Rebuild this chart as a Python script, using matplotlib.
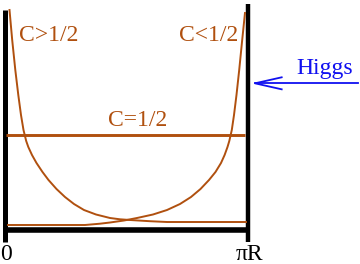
import matplotlib
matplotlib.use("Agg")
import matplotlib.pyplot as plt

# data (x: 0 .. 1 corresponds to 0 .. piR ; y: 0 at the bottom brane line)
c_gt_x = [0.0173, 0.0284, 0.0412, 0.0535, 0.0646, 0.0749, 0.0860, 0.0947, 0.1099, 0.1284,
          0.1531, 0.1778, 0.2107, 0.2457, 0.2827, 0.3239, 0.3733, 0.4309, 0.4720, 0.5132,
          0.5955, 0.6654, 0.9905]
c_gt_y = [0.9977, 0.8614, 0.7250, 0.6114, 0.5205, 0.4523, 0.4023, 0.3750, 0.3386, 0.3023,
          0.2614, 0.2250, 0.1841, 0.1477, 0.1159, 0.0886, 0.0682, 0.0523, 0.0464, 0.0432,
          0.0377, 0.0341, 0.0341]
c_lt_x = [0.0111, 0.3280, 0.3897, 0.4309, 0.4885, 0.5420, 0.6078, 0.6654, 0.7189, 0.7642,
          0.8033, 0.8383, 0.8650, 0.8877, 0.9025, 0.9144, 0.9218, 0.9321, 0.9412, 0.9514,
          0.9626, 0.9749, 0.9864]
c_lt_y = [0.0205, 0.0205, 0.0264, 0.0318, 0.0409, 0.0523, 0.0682, 0.0886, 0.1159, 0.1477,
          0.1841, 0.2250, 0.2614, 0.3023, 0.3386, 0.3750, 0.4023, 0.4523, 0.5205, 0.6114,
          0.7250, 0.8614, 0.9841]
c_half_x = [0.003, 0.988]
c_half_y = [0.428, 0.428]
tick_labels = ["0", "\u03c0R"]
labels = ["C>1/2", "C<1/2", "C=1/2", "Higgs"]

brown = "#B0500F"
blue = "#1010F0"

fig = plt.figure(figsize=(3.6, 2.64), dpi=100)
ax = fig.add_axes([0, 0, 1, 1])
ax.set_xlim(-0.0218, 1.4597)
ax.set_ylim(-0.1568, 1.0432)
ax.axis("off")

font = dict(family=["Liberation Serif", "DejaVu Serif"], size=17)

# walls
ax.plot([0, 0], [-0.057, 1.0], color="black", lw=3.6, solid_capstyle="butt")
ax.plot([1.0, 1.0], [-0.057, 1.025], color="black", lw=3.2, solid_capstyle="butt")
ax.plot([0, 1.0], [0, 0], color="black", lw=4.0, solid_capstyle="butt")

# profiles
ax.plot(c_half_x, c_half_y, color=brown, lw=2.1, solid_capstyle="butt")
ax.plot(c_gt_x, c_gt_y, color=brown, lw=1.4, solid_joinstyle="round")
ax.plot(c_lt_x, c_lt_y, color=brown, lw=1.4, solid_joinstyle="round")

# labels
ax.text(0.0576, 0.857, labels[0], color=brown, ha="left", va="baseline", **font)
ax.text(0.716, 0.858, labels[1], color=brown, ha="left", va="baseline", **font)
ax.text(0.421, 0.470, labels[2], color=brown, ha="left", va="baseline", **font)
ax.text(1.199, 0.707, labels[3], color=blue, ha="left", va="baseline", **font)

# x tick labels
ax.text(0.003, -0.137, tick_labels[0], color="black", ha="center", va="baseline", **font)
ax.text(1.005, -0.137, tick_labels[1], color="black", ha="center", va="baseline", **font)

# Higgs arrow
tip_x, tip_y, tail_x = 1.0276, 0.6645, 1.4514
head_x, head_dy = 1.1374, 0.0273
ax.plot([tip_x, tail_x], [tip_y, tip_y], color=blue, lw=1.3)
ax.plot([head_x, tip_x, head_x], [tip_y + head_dy, tip_y, tip_y - head_dy], color=blue, lw=1.3)

fig.savefig("out.png", dpi=100)
